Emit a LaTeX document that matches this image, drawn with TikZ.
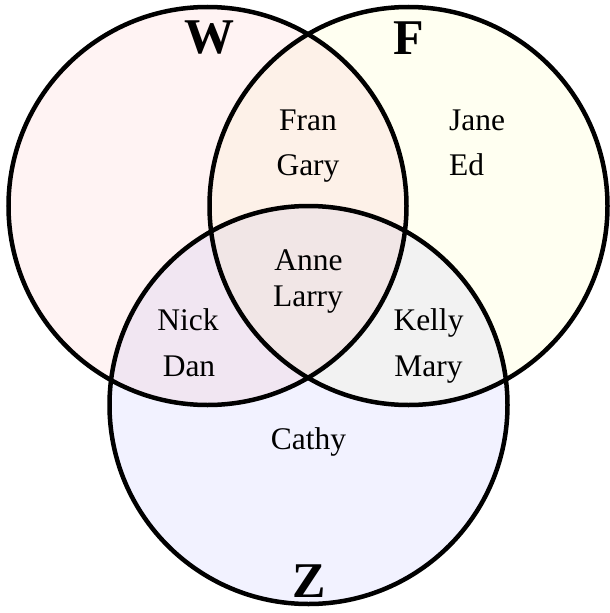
\documentclass[tikz,border=0pt]{standalone}
\usepackage{fontspec}
\setmainfont{Liberation Serif}
\definecolor{wcol}{RGB}{255,243,243}
\definecolor{fcol}{RGB}{255,255,241}
\definecolor{zcol}{RGB}{242,242,255}
\definecolor{wfcol}{RGB}{253,241,232}
\definecolor{wzcol}{RGB}{241,230,242}
\definecolor{fzcol}{RGB}{242,242,242}
\definecolor{wfzcol}{RGB}{241,230,230}
\tikzset{
  person/.style={font=\fontsize{31.5}{36}\selectfont, inner sep=0pt, anchor=base},
  setlbl/.style={font=\fontsize{50}{56}\selectfont\bfseries, inner sep=0pt, anchor=base},
  ring/.style={draw=black, line width=4.5pt}
}
\begin{document}
\begin{tikzpicture}[x=1pt,y=-1pt]
\useasboundingbox (0,0) rectangle (610,613);
\def\R{199}
\coordinate (cw) at (207.5,206);
\coordinate (cf) at (408.5,206);
\coordinate (cz) at (308.5,405);
% base fills
\fill[wcol] (cw) circle[radius=\R];
\fill[fcol] (cf) circle[radius=\R];
\fill[zcol] (cz) circle[radius=\R];
\begin{scope}
  \clip (cw) circle[radius=\R];
  \fill[wfcol] (cf) circle[radius=\R];
  \fill[wzcol] (cz) circle[radius=\R];
\end{scope}
\begin{scope}
  \clip (cf) circle[radius=\R];
  \fill[fzcol] (cz) circle[radius=\R];
\end{scope}
\begin{scope}
  \clip (cw) circle[radius=\R];
  \clip (cf) circle[radius=\R];
  \fill[wfzcol] (cz) circle[radius=\R];
\end{scope}
% outlines
\draw[ring] (cw) circle[radius=\R];
\draw[ring] (cf) circle[radius=\R];
\draw[ring] (cz) circle[radius=\R];
% set labels
\node[setlbl] (lw) at (209.5,53) {W};
\node[setlbl] (lf) at (408.5,54) {F};
\node[setlbl] (lz) at (309,597) {Z};
% members
\node[person] (fran) at (308,130) {Fran};
\node[person] (gary) at (308,175) {Gary};
\node[person, anchor=base west] (jane) at (449,130) {Jane};
\node[person, anchor=base west] (ed) at (449,175) {Ed};
\node[person] (anne) at (308.5,270) {Anne};
\node[person] (larry) at (308,306) {Larry};
\node[person] (nick) at (188,330) {Nick};
\node[person] (dan) at (189,376) {Dan};
\node[person] (kelly) at (428.5,330) {Kelly};
\node[person] (mary) at (428.5,376) {Mary};
\node[person] (cathy) at (308.5,449) {Cathy};
\end{tikzpicture}
\end{document}
